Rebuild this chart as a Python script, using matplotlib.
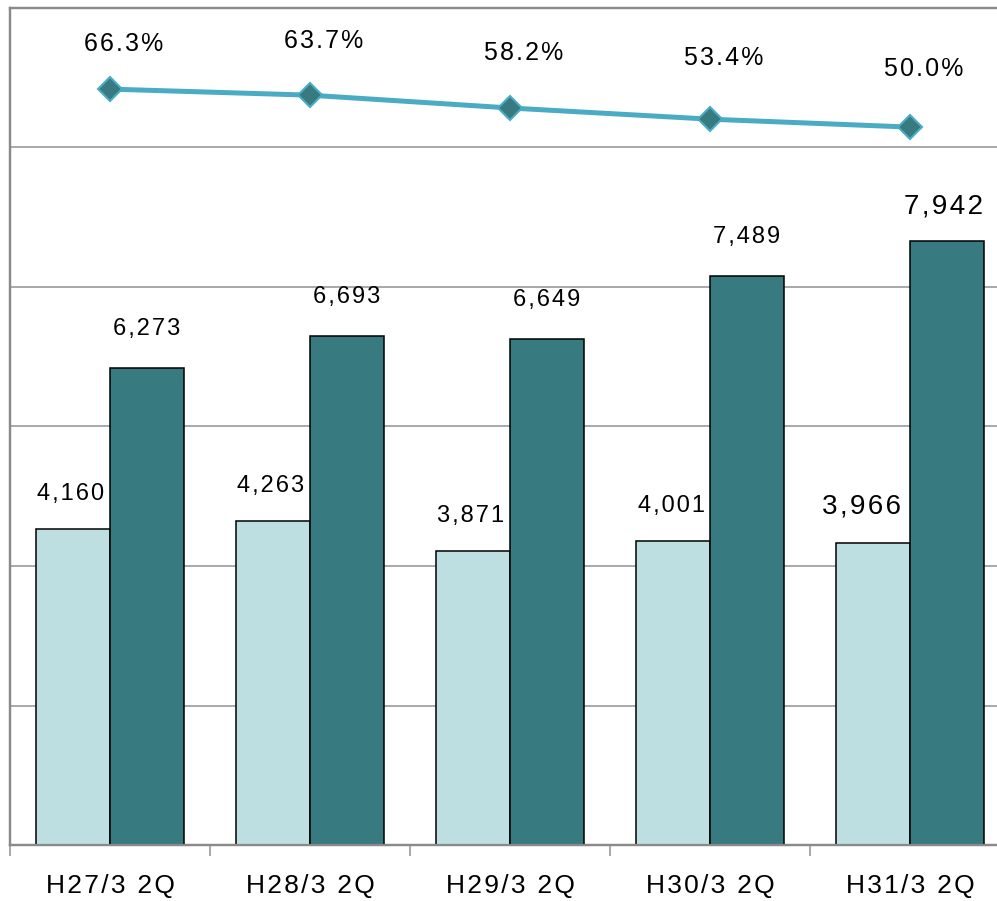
import numpy as np
import matplotlib
matplotlib.use("Agg")
import matplotlib.pyplot as plt

# -----------------------------
# Data
# -----------------------------
periods = ["H27/3 2Q", "H28/3 2Q", "H29/3 2Q", "H30/3 2Q", "H31/3 2Q"]
series_a = [4160, 4263, 3871, 4001, 3966]
series_b = [6273, 6693, 6649, 7489, 7942]
ratio = [66.3, 63.7, 58.2, 53.4, 50.0]

plt.rcParams["font.family"] = ["Liberation Sans", "DejaVu Sans"]

light = "#bedfe2"
dark = "#377a80"
line_col = "#4aabc5"
grid_col = "#9a9a9a"


def spaced(s):
    # the source chart uses wide letter spacing
    return "\u200a".join(s)


fig = plt.figure(figsize=(9.97, 9.01), dpi=100)
ax = fig.add_axes([10 / 997, 1 - 845 / 901, 1000 / 997, 837 / 901])

x = np.arange(len(periods))
w = 0.37

# -----------------------------
# Bars
# -----------------------------
ax.bar(x - w, series_a, width=w, align="edge", color=light,
       edgecolor="black", linewidth=1.1, zorder=3)
ax.bar(x, series_b, width=w, align="edge", color=dark,
       edgecolor="black", linewidth=1.1, zorder=3)

ymax = 11007
ax.set_ylim(0, ymax)
ax.set_xlim(-0.5, len(periods) - 0.5)
for k in range(1, 6):
    ax.axhline(ymax / 6 * k, color=grid_col, lw=1.2, zorder=1)

for i, v in enumerate(series_a):
    big = i == len(periods) - 1
    ax.annotate(spaced(f"{v:,}"), (x[i] - w / 2, v), xytext=(-12 if big else -2, 24),
                textcoords="offset pixels", ha="center", va="bottom",
                fontsize=20 if big else 17)
for i, v in enumerate(series_b):
    big = i == len(periods) - 1
    ax.annotate(spaced(f"{v:,}"), (x[i] + w / 2, v), xytext=(-3 if big else 0, 22 if big else 28),
                textcoords="offset pixels", ha="center", va="bottom",
                fontsize=20 if big else 17)

# -----------------------------
# Ratio line
# -----------------------------
ax2 = ax.twinx()
ax2.set_ylim(-258.0, 101.1)
ax2.plot(x, ratio, color=line_col, lw=3.6, marker="D", ms=12,
         mfc=dark, mec=line_col, mew=1.5, zorder=4)
lift = [33, 42, 43, 49, 46]
for i, v in enumerate(ratio):
    ax2.annotate(spaced(f"{v:.1f}%"), (x[i], v), xytext=(14, lift[i]),
                 textcoords="offset pixels", ha="center", va="bottom",
                 fontsize=18)
ax2.set_yticks([])

# -----------------------------
# Axes styling
# -----------------------------
ax.set_yticks([])
ax.set_xticks(np.arange(len(periods) + 1) - 0.5)
ax.set_xticklabels([])
ax.tick_params(axis="x", which="major", length=8, width=1.2, color=grid_col)
ax.set_xticks(x, minor=True)
ax.set_xticklabels([spaced(p) for p in periods], minor=True, fontsize=19)
ax.tick_params(axis="x", which="minor", length=0, pad=21)

for a in (ax, ax2):
    for s in a.spines.values():
        s.set_color("#8a8a8a")
        s.set_linewidth(1.6)

fig.savefig("out.png", dpi=100)
